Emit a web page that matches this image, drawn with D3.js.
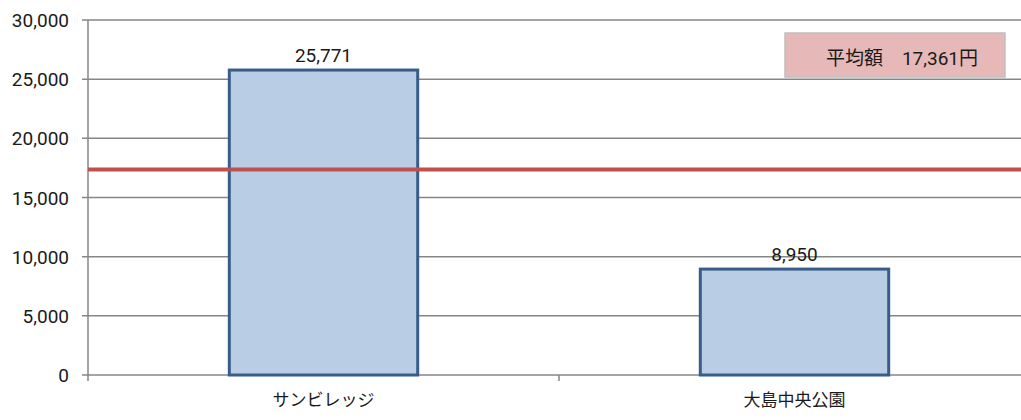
<!DOCTYPE html>
<html>
<head>
<meta charset="utf-8">
<script src="https://cdn.jsdelivr.net/npm/d3@7.9.0/dist/d3.min.js"></script>
<style>
  body { margin: 0; background: #fff; }
  svg { display: block; font-family: Roboto, "Noto Sans CJK JP", sans-serif; }
</style>
</head>
<body>
<svg id="chart" width="1021" height="420"></svg>
<script>
// データ
const categories = ['サンビレッジ', '大島中央公園'];
const values = [25771, 8950];
const average = 17361;
const yTicks = [0, 5000, 10000, 15000, 20000, 25000, 30000];
const avgLabel = '平均額　17,361円';

const svg = d3.select('#chart');
const plotLeft = 88, plotRight = 1030, plotTop = 20, plotBottom = 375;

const x = d3.scaleBand().domain(categories).range([plotLeft, plotRight]);
const y = d3.scaleLinear().domain([0, 30000]).range([plotBottom, plotTop]);
const fmt = d3.format(',');

// 目盛り線
svg.append('g')
  .selectAll('line')
  .data(yTicks)
  .join('line')
  .attr('x1', plotLeft - 6).attr('x2', plotRight)
  .attr('y1', d => y(d)).attr('y2', d => y(d))
  .attr('stroke', '#868686').attr('stroke-width', 1.5);

// y 軸ラベル
svg.append('g')
  .selectAll('text')
  .data(yTicks)
  .join('text')
  .attr('x', 69).attr('y', d => y(d) + 7)
  .attr('text-anchor', 'end')
  .attr('font-size', 19).attr('fill', '#1a1a1a')
  .text(d => fmt(d));

// 軸線
svg.append('line')
  .attr('x1', plotLeft).attr('x2', plotLeft).attr('y1', plotTop).attr('y2', plotBottom + 6)
  .attr('stroke', '#868686').attr('stroke-width', 1.5);
svg.append('g')
  .selectAll('line')
  .data(categories.slice(1))
  .join('line')
  .attr('x1', d => x(d)).attr('x2', d => x(d))
  .attr('y1', plotBottom).attr('y2', plotBottom + 6)
  .attr('stroke', '#868686').attr('stroke-width', 1.5);

// 棒
const bw = x.bandwidth() * 0.4;
svg.append('g')
  .selectAll('rect')
  .data(values)
  .join('rect')
  .attr('x', (d, i) => x(categories[i]) + x.bandwidth() / 2 - bw / 2)
  .attr('y', d => y(d))
  .attr('width', bw)
  .attr('height', d => plotBottom - y(d))
  .attr('fill', '#B9CDE5')
  .attr('stroke', '#385D8A').attr('stroke-width', 3);

// 値ラベル
svg.append('g')
  .selectAll('text')
  .data(values)
  .join('text')
  .attr('x', (d, i) => x(categories[i]) + x.bandwidth() / 2)
  .attr('y', d => y(d) - 8)
  .attr('text-anchor', 'middle')
  .attr('font-size', 19).attr('fill', '#1a1a1a')
  .text(d => fmt(d));

// カテゴリラベル
svg.append('g')
  .selectAll('text')
  .data(categories)
  .join('text')
  .attr('x', d => x(d) + x.bandwidth() / 2)
  .attr('y', 406)
  .attr('text-anchor', 'middle')
  .attr('font-size', 17).attr('fill', '#1a1a1a')
  .attr('font-family', '"Noto Sans CJK JP", sans-serif')
  .text(d => d);

// 平均線
svg.append('line')
  .attr('x1', plotLeft).attr('x2', plotRight)
  .attr('y1', y(average)).attr('y2', y(average))
  .attr('stroke', '#C0504D').attr('stroke-width', 4);

// 平均額ボックス
svg.append('rect')
  .attr('x', 785).attr('y', 33).attr('width', 220).attr('height', 44)
  .attr('fill', '#E6B9B8').attr('stroke', '#BFBFBF').attr('stroke-width', 1.5);
svg.append('text')
  .attr('x', 902).attr('y', 65)
  .attr('text-anchor', 'middle')
  .attr('font-size', 19).attr('fill', '#1a1a1a')
  .text(avgLabel);
</script>
</body>
</html>
